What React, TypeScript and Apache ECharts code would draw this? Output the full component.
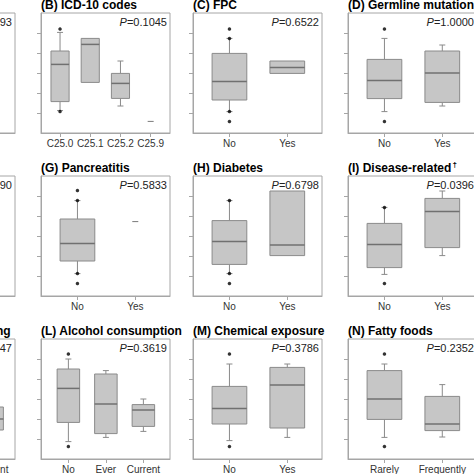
import React, { useEffect, useRef } from "react";
import * as echarts from "echarts";

// ---- data (values in axis units; y axis 0..6) ----
// box rows: [whiskerLow, q1, median, q3, whiskerHigh]
const catsA: string[] = [];
const boxesA: number[][] = [];
const outA: number[][] = [];
const pA = "0.4893";

const titleB = "(B) ICD-10 codes";
const catsB = ["C25.0", "C25.1", "C25.2", "C25.9"];
const boxesB = [
  [1.12, 1.57, 3.43, 4.1, 5.03],
  [2.53, 2.53, 4.43, 4.73, 4.73],
  [1.35, 1.73, 2.48, 2.98, 3.6],
  [0.58, 0.58, 0.58, 0.58, 0.58],
];
const outB = [[1, 5.2], [1, 1.07]];
const pB = "0.1045";

const titleC = "(C) FPC";
const catsC = ["No", "Yes"];
const boxesC = [
  [1.07, 1.65, 2.57, 3.98, 4.73],
  [2.98, 2.98, 3.28, 3.6, 3.6],
];
const outC = [[1, 5.2], [1, 4.73], [1, 1.07], [1, 0.58]];
const pC = "0.6522";

const titleD = "(D) Germline mutation";
const catsD = ["No", "Yes"];
const boxesD = [
  [1.07, 1.72, 2.62, 3.68, 4.73],
  [1.35, 1.53, 3.0, 4.1, 4.4],
];
const outD = [[1, 5.2], [1, 0.58]];
const pD = "1.0000";

const catsF: string[] = [];
const boxesF: number[][] = [];
const outF: number[][] = [];
const pF = "0.5090";

const titleG = "(G) Pancreatitis";
const catsG = ["No", "Yes"];
const boxesG = [
  [1.12, 1.75, 2.63, 3.85, 4.77],
  [3.72, 3.72, 3.72, 3.72, 3.72],
];
const outG = [[1, 5.27], [1, 4.77], [1, 1.12], [1, 0.63]];
const pG = "0.5833";

const titleH = "(H) Diabetes";
const catsH = ["No", "Yes"];
const boxesH = [
  [1.12, 1.58, 2.73, 3.77, 4.77],
  [2.02, 2.02, 2.55, 5.25, 5.25],
];
const outH = [[1, 4.77], [1, 1.12], [1, 0.63]];
const pH = "0.6798";

const titleI = "(I) Disease-related";
const catsI = ["No", "Yes"];
const boxesI = [
  [1.08, 1.42, 2.57, 3.63, 4.43],
  [2.02, 2.42, 4.22, 4.88, 5.25],
];
const outI = [[1, 4.43], [1, 0.63]];
const pI = "0.0396";

const titleK = "(K) Cigarette smoking";
const catsK = ["No", "Ever", "Current"];
const boxesK = [[], [], [1.3, 1.45, 2.0, 2.6, 3.0]];
const outK: number[][] = [];
const pK = "0.2947";

const titleL = "(L) Alcohol consumption";
const catsL = ["No", "Ever", "Current"];
const boxesL = [
  [0.87, 1.83, 3.53, 4.5, 5.0],
  [1.08, 1.27, 2.75, 4.25, 4.42],
  [1.38, 1.63, 2.45, 2.72, 3.0],
];
const outL = [[1, 5.25], [1, 0.62]];
const pL = "0.3619";

const titleM = "(M) Chemical exposure";
const catsM = ["No", "Yes"];
const boxesM = [
  [0.92, 1.75, 2.53, 3.63, 4.75],
  [1.08, 1.55, 3.7, 4.58, 4.75],
];
const outM = [[1, 5.25], [1, 0.62]];
const pM = "0.3786";

const titleN = "(N) Fatty foods";
const catsN = ["Rarely", "Frequently"];
const boxesN = [
  [1.08, 1.98, 3.0, 4.42, 4.75],
  [1.1, 1.42, 1.75, 3.13, 3.72],
];
const outN = [[1, 5.25], [1, 0.62]];
const pN = "0.2352";

// ---- layout ----
const COL_LEFT = [-114, 41, 193, 348];
const ROW_TOP = [13, 176, 339];
const W = 129;
const H = 120;
const XRANGE: Record<number, [number, number]> = {
  2: [0.37, 2.6],
  3: [0.27, 3.71],
  4: [0.37, 4.64],
};

const FONT = "'Liberation Sans', Arial, Helvetica, sans-serif";
const FRAME = "#a6a6a6";

type Panel = {
  title: string;
  dagger?: boolean;
  cats: string[];
  boxes: number[][];
  out: number[][];
  p: string;
  col: number;
  row: number;
  xr?: [number, number];
};

const panels: Panel[] = [
  { title: "", cats: catsA, boxes: boxesA, out: outA, p: pA, col: 0, row: 0 },
  { title: titleB, cats: catsB, boxes: boxesB, out: outB, p: pB, col: 1, row: 0 },
  { title: titleC, cats: catsC, boxes: boxesC, out: outC, p: pC, col: 2, row: 0 },
  { title: titleD, cats: catsD, boxes: boxesD, out: outD, p: pD, col: 3, row: 0 },
  { title: "", cats: catsF, boxes: boxesF, out: outF, p: pF, col: 0, row: 1 },
  { title: titleG, cats: catsG, boxes: boxesG, out: outG, p: pG, col: 1, row: 1 },
  { title: titleH, cats: catsH, boxes: boxesH, out: outH, p: pH, col: 2, row: 1 },
  { title: titleI, dagger: true, cats: catsI, boxes: boxesI, out: outI, p: pI, col: 3, row: 1 },
  { title: titleK, cats: catsK, boxes: boxesK, out: outK, p: pK, col: 0, row: 2, xr: [0.27, 3.6] },
  { title: titleL, cats: catsL, boxes: boxesL, out: outL, p: pL, col: 1, row: 2 },
  { title: titleM, cats: catsM, boxes: boxesM, out: outM, p: pM, col: 2, row: 2 },
  { title: titleN, cats: catsN, boxes: boxesN, out: outN, p: pN, col: 3, row: 2 },
];

function renderBox(params: any, api: any) {
  const x = api.value(0);
  const lo = api.value(1);
  const q1 = api.value(2);
  const med = api.value(3);
  const q3 = api.value(4);
  const hi = api.value(5);
  const cx = api.coord([x, med])[0];
  const yLo = api.coord([x, lo])[1];
  const yQ1 = api.coord([x, q1])[1];
  const yMed = api.coord([x, med])[1];
  const yQ3 = api.coord([x, q3])[1];
  const yHi = api.coord([x, hi])[1];
  const half = api.size([0.6, 0])[0] / 2;
  const lineStyle = { stroke: "#8a8a8a", lineWidth: 1, fill: null };
  const children: any[] = [];
  if (q1 === q3) {
    children.push({
      type: "line",
      shape: { x1: cx - 3, y1: yMed, x2: cx + 3, y2: yMed },
      style: { stroke: "#7a7a7a", lineWidth: 1 },
    });
    return { type: "group", children };
  }
  if (hi > q3) {
    children.push({ type: "line", shape: { x1: cx, y1: yQ3, x2: cx, y2: yHi }, style: lineStyle });
    children.push({ type: "line", shape: { x1: cx - 3, y1: yHi, x2: cx + 3, y2: yHi }, style: lineStyle });
  }
  if (lo < q1) {
    children.push({ type: "line", shape: { x1: cx, y1: yQ1, x2: cx, y2: yLo }, style: lineStyle });
    children.push({ type: "line", shape: { x1: cx - 3, y1: yLo, x2: cx + 3, y2: yLo }, style: lineStyle });
  }
  children.push({
    type: "rect",
    shape: { x: cx - half, y: yQ3, width: half * 2, height: yQ1 - yQ3 },
    style: { fill: "#c6c6c6", stroke: "#8a8a8a", lineWidth: 1 },
  });
  children.push({
    type: "line",
    shape: { x1: cx - half, y1: yMed, x2: cx + half, y2: yMed },
    style: { stroke: "#707070", lineWidth: 1.5 },
  });
  return { type: "group", children };
}

function buildOption() {
  const grid: any[] = [];
  const xAxis: any[] = [];
  const yAxis: any[] = [];
  const series: any[] = [];
  const graphic: any[] = [];

  panels.forEach((p, i) => {
    const left = COL_LEFT[p.col];
    const top = ROW_TOP[p.row];
    const n = p.cats.length || 2;
    const [xmin, xmax] = p.xr ?? XRANGE[n];
    const ticks = Array.from({ length: p.cats.length }, (_, k) => k + 1);
    grid.push({
      left,
      top,
      width: W,
      height: H,
      show: true,
      borderColor: FRAME,
      borderWidth: 1,
      backgroundColor: "transparent",
      outerBoundsMode: "none",
      containLabel: false,
    });
    xAxis.push({
      type: "value",
      gridIndex: i,
      min: xmin,
      max: xmax,
      splitLine: { show: false },
      axisLine: { show: true, onZero: false, lineStyle: { color: FRAME, width: 1 } },
      axisTick: { show: true, customValues: ticks, length: 4, lineStyle: { color: FRAME } },
      axisLabel: {
        show: true,
        customValues: ticks,
        formatter: (v: number) => p.cats[Math.round(v) - 1] ?? "",
        fontSize: 10,
        fontFamily: FONT,
        color: "#333",
        margin: 5,
      },
    });
    yAxis.push({
      type: "value",
      gridIndex: i,
      min: 0,
      max: 6,
      interval: 1,
      splitLine: { show: false },
      axisLine: { show: true, lineStyle: { color: FRAME, width: 1 } },
      axisTick: { show: true, customValues: [1, 2, 3, 4, 5], length: 4, lineStyle: { color: FRAME } },
      axisLabel: { show: false },
    });
    const boxData = p.boxes
      .map((b, k) => (b.length ? [k + 1, ...b] : null))
      .filter((d) => d !== null);
    series.push({
      type: "custom",
      xAxisIndex: i,
      yAxisIndex: i,
      renderItem: renderBox,
      data: boxData,
      clip: false,
      encode: { x: 0, y: [1, 2, 3, 4, 5] },
    });
    series.push({
      type: "scatter",
      xAxisIndex: i,
      yAxisIndex: i,
      data: p.out,
      symbol: "circle",
      symbolSize: 3.5,
      itemStyle: { color: "#000" },
      z: 5,
    });
    if (p.title) {
      graphic.push({
        type: "text",
        x: left,
        y: top - 8.5,
        style: {
          text: p.dagger ? `{t|${p.title}}{s|†}` : `{t|${p.title}}`,
          rich: {
            t: { fontSize: 12, fontWeight: "bold", fontFamily: FONT, fill: "#000" },
            s: { fontSize: 8, fontWeight: "bold", fontFamily: FONT, fill: "#000", verticalAlign: "top", padding: [0, 0, 6, 1] },
          },
          align: "left",
          verticalAlign: "middle",
        },
      });
    }
    graphic.push({
      type: "text",
      x: left + W - 3,
      y: top + 8.5,
      style: {
        text: `{i|P}{n|=${p.p}}`,
        rich: {
          i: { fontSize: 11, fontStyle: "italic", fontFamily: FONT, fill: "#222" },
          n: { fontSize: 11, fontFamily: FONT, fill: "#222" },
        },
        align: "right",
        verticalAlign: "middle",
      },
    });
  });

  return {
    animation: false,
    backgroundColor: "#fff",
    grid,
    xAxis,
    yAxis,
    series,
    graphic,
  };
}

export default function App() {
  const ref = useRef<HTMLDivElement>(null);
  useEffect(() => {
    if (!ref.current) return;
    const chart = echarts.init(ref.current, undefined, { renderer: "svg" });
    chart.setOption(buildOption() as any);
    return () => chart.dispose();
  }, []);
  return (
    <div
      ref={ref}
      style={{ position: "fixed", left: 0, top: 0, width: 474, height: 474, background: "#fff" }}
    />
  );
}
